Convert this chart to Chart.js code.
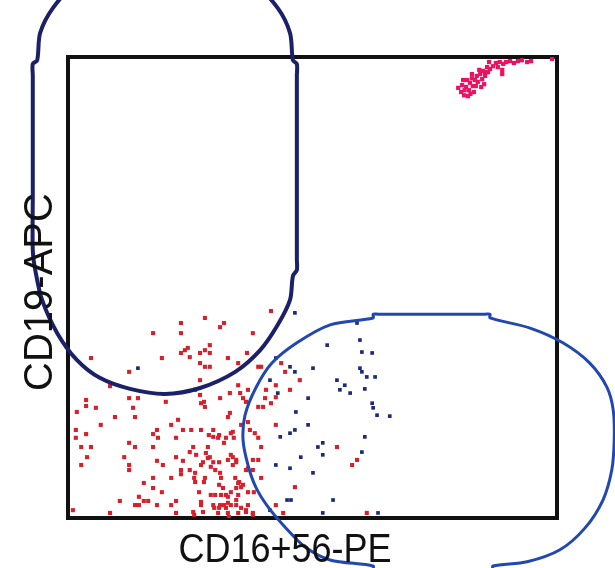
<!DOCTYPE html>
<html lang="en">
<head>
<meta charset="utf-8">
<title>CD19 / CD16+56 dot plot</title>
<style>
  html, body { margin: 0; padding: 0; background: #fff; }
  canvas { display: block; }
</style>
</head>
<body>
<canvas id="dotPlot" width="615" height="568"></canvas>

<script src="https://cdn.jsdelivr.net/npm/chart.js"></script>
<script>
    // events as [CD16+56-PE, CD19-APC], channel scale 0..1000
    const redCells = [
        [231,423],[231,401],[174,401],[239,364],[231,358],[192,347],[47,347],[125,317],
        [125,260],[143,260],[200,252],[37,256],[37,243],[57,239],[18,230],[133,239],[86,286],
        [96,219],[137,219],[225,213],[211,202],[67,202],[16,191],[37,182],[182,191],[174,182],
        [235,191],[16,174],[184,174],[221,174],[125,163],[137,154],[27,154],[47,154],[174,154],
        [39,132],[115,132],[221,132],[235,124],[182,124],[194,115],[27,115],[125,115],[125,104],
        [231,104],[231,95],[211,87],[174,87],[155,76],[174,65],[192,56],[145,46],[155,37],
        [164,37],[137,28],[145,28],[106,37],[182,28],[221,37],[211,28],[10,17],[86,11],[221,11],
        [280,434],[319,423],[311,414],[378,401],[290,375],[280,364],[270,358],[290,358],[249,349],
        [366,358],[327,347],[348,336],[270,336],[280,328],[290,328],[389,328],[395,328],[436,336],
        [444,317],[270,299],[474,299],[348,288],[425,288],[368,278],[405,278],[454,278],[260,278],
        [270,267],[311,260],[331,271],[352,271],[358,260],[364,252],[403,260],[425,262],[272,249],
        [280,241],[415,249],[389,241],[399,241],[331,228],[415,449],[245,369],[278,252],
        [327,219],[252,191],[272,191],[297,191],[297,176],[307,174],[333,184],[323,174],[372,191],
        [382,184],[389,174],[354,202],[368,208],[425,202],[256,154],[249,143],[286,154],[262,137],
        [276,121],[272,115],[290,132],[297,121],[292,111],[301,104],[333,137],[327,126],[344,126],
        [337,115],[378,126],[389,126],[395,154],[368,108],[378,104],[249,104],[260,98],[311,98],
        [313,87],[342,87],[348,76],[354,67],[395,87],[260,78],[280,87],[268,56],[301,50],[313,50],
        [323,50],[333,56],[368,56],[464,67],[272,35],[272,28],[297,28],[311,28],[323,22],[333,28],
        [344,28],[368,28],[425,28],[256,13],[276,13],[307,11],[327,11],[348,11],[364,13],[378,11],
        [440,11],[550,154],[591,126],[581,115],[611,11],
        [288,180],[309,180],[337,187],[339,174],[319,163],[282,141],[286,130],[337,132],[344,121],
        [309,121],[364,104],[258,87],[278,78],[309,72],[317,65],[350,78],[358,72],[344,65],
        [380,56],[292,50],[327,46],[348,50],[344,39],[299,22],[309,22],[319,28],[354,22],[364,17],
        [258,7],[329,2],[378,7],[327,33]
    ];
    const blueCells = [
        [143,325],[464,445],[591,423],[530,375],[597,386],[601,360],[622,358],[501,325],[454,328],
        [464,317],[425,347],[597,325],[601,317],[611,306],[628,306],[550,299],[566,288],[556,278],
        [577,271],[607,280],[413,299],[429,271],[491,260],[622,249],[624,239],[632,223],[658,221],
        [466,230],[434,176],[454,184],[464,191],[491,202],[607,176],[521,163],[511,154],[601,143],
        [476,132],[521,137],[425,115],[454,108],[501,98],[448,39],[456,39],[542,39],[521,11],
        [634,11],[413,17]
    ];
    const pinkCells = [
        [798,933],[804,924],[810,917],[806,939],[814,935],[820,928],[822,944],[828,937],[832,950],
        [826,954],[836,959],[843,963],[838,946],[847,952],[853,959],[849,970],[859,967],[863,974],
        [857,978],[869,980],[875,987],[883,989],[890,985],[879,978],[896,989],[904,991],[912,987],
        [920,991],[928,993],[939,989],[947,991],[888,972],[888,963],[816,950],[830,924],[851,941],
        [818,915],[990,996],[861,989],[845,935],[811,928],[823,920],[834,937],[808,950],[826,963],
        [841,972],[853,967]
    ];

    // gate outlines (vertices), they run past the plot frame
    const bCellGate = [
        [-72,700],[-72,798],[-72,960],[-72,985],[-63,993],[-57,1052],[-31,1106],[14,1156],
        [106,1193],[198,1206],[290,1193],[382,1156],[429,1106],[454,1052],[460,993],[468,985],
        [468,960],[468,798],[468,560],[468,538],[460,525],[454,473],[429,419],[393,364],
        [342,317],[270,282],[198,269],[127,280],[65,304],[18,343],[-22,401],[-53,473],
        [-67,538],[-72,581],[-72,700]
    ];
    const nkGate = [
        [744,442],[853,442],[863,442],[863,434],[945,412],[1012,380],[1067,336],[1102,284],
        [1115,234],[1117,169],[1112,104],[1094,39],[1057,-22],[1006,-69],[939,-95],[869,-104],
        [869,-113],[859,-113],[744,-113],[634,-113],[624,-113],[624,-104],[536,-91],[485,-63],
        [444,-20],[409,24],[384,67],[368,115],[358,169],[362,223],[384,282],[417,336],[468,380],
        [536,419],[624,434],[624,442],[634,442],[744,442]
    ];

    const xTitle = 'CD16+56-PE';
    const yTitle = 'CD19-APC';

    function toXY(list) {
        return list.map(function (p) { return {x: p[0], y: p[1]}; });
    }

    // frame round the plot area plus the two axis names
    const framePlugin = {
        id: 'frame',
        beforeDatasetsDraw(chart) {
            const a = chart.chartArea;
            const ctx = chart.ctx;
            ctx.save();
            ctx.strokeStyle = '#111';
            ctx.lineWidth = 4;
            ctx.strokeRect(a.left, a.top, a.right - a.left, a.bottom - a.top);
            ctx.restore();
        },
        afterDraw(chart) {
            const a = chart.chartArea;
            const ctx = chart.ctx;
            ctx.save();
            ctx.fillStyle = '#111';
            ctx.font = '40px "Liberation Sans", Arial, sans-serif';
            ctx.textAlign = 'center';
            ctx.textBaseline = 'alphabetic';
            // x title
            ctx.save();
            ctx.translate(a.left + 217, a.bottom + 44);
            ctx.scale(0.9, 1);
            ctx.fillText(xTitle, 0, 0);
            ctx.restore();
            // y title
            ctx.translate(a.left - 16, a.top + 235);
            ctx.rotate(-Math.PI / 2);
            ctx.fillText(yTitle, 0, 0);
            ctx.restore();
        }
    };

    const plot = new Chart(document.getElementById('dotPlot'), {
        type: 'scatter',
        data: {
            datasets: [{
                label: 'B cell gate',
                data: toXY(bCellGate),
                showLine: true,
                borderColor: '#1b2068',
                borderWidth: 4,
                pointRadius: 0,
                tension: 0.3,
                fill: false,
                clip: false
            }, {
                label: 'NK gate',
                data: toXY(nkGate),
                showLine: true,
                borderColor: '#2148b0',
                borderWidth: 3,
                pointRadius: 0,
                tension: 0.3,
                fill: false,
                clip: false
            }, {
                label: 'NK cells',
                data: toXY(blueCells),
                pointStyle: 'rect',
                pointRadius: 2.6,
                backgroundColor: '#1c2a78',
                borderWidth: 0
            }, {
                label: 'other',
                data: toXY(redCells),
                pointStyle: 'rect',
                pointRadius: 2.9,
                backgroundColor: '#d8202c',
                borderWidth: 0
            }, {
                label: 'bright',
                data: toXY(pinkCells),
                pointStyle: 'rect',
                pointRadius: 3,
                backgroundColor: '#ec1262',
                borderWidth: 0
            }]
        },
        options: {
            responsive: false,
            animation: false,
            layout: {padding: {left: 68, top: 57, right: 58, bottom: 50}},
            plugins: {
                legend: {display: false},
                tooltip: {enabled: false}
            },
            scales: {
                x: {type: 'linear', min: 0, max: 1000, display: false},
                y: {type: 'linear', min: 0, max: 1000, display: false}
            }
        },
        plugins: [framePlugin]
    });
</script>
</body>
</html>
